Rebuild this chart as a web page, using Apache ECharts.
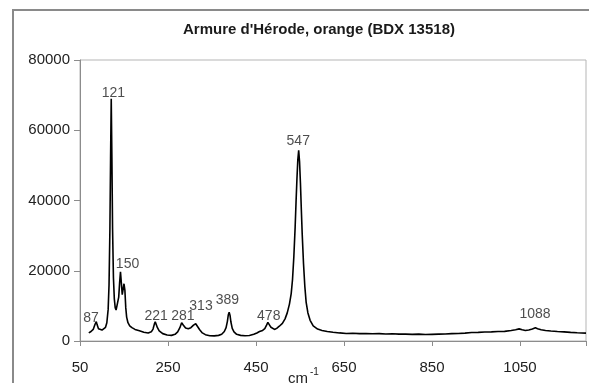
<!DOCTYPE html>
<html>
<head>
<meta charset="utf-8">
<script src="https://cdn.jsdelivr.net/npm/echarts@6/dist/echarts.min.js"></script>
<style>
html,body{margin:0;padding:0;background:#fff;}
#chart{width:589px;height:383px;}
</style>
</head>
<body>
<div id="chart"></div>
<script>
// Raman spectrum: wavenumber (cm-1) and intensity
const wavenumbers = [70,75,80,84,87,89,92,96,100,104,108,111,114,116,118,119.5,121,122.5,124,126,128,130,132,135,138,140,142,144,146,148,150,152,154,156,159,163,168,175,185,195,205,212,216,219,221,223,226,230,238,248,258,266,272,277,281,285,290,296,302,308,313,317,322,328,335,345,355,365,372,378,382,385,387,389,391,393,396,400,406,415,425,435,445,452,458,465,470,474,477,480,484,488,492,497,503,510,516,521,526,530,533,536,539,541,543,545,547,549,551,553,555,558,561,564,568,573,580,590,600,612,625,640,655,670,685,700,715,730,745,760,775,790,805,820,835,850,865,880,895,910,925,940,955,970,985,1000,1015,1030,1040,1048,1055,1062,1070,1078,1085,1090,1098,1108,1120,1135,1150,1165,1180,1200];
const intensities = [2300,2700,3300,4700,5500,4600,3500,3100,3100,3300,3900,5200,9000,16000,32000,52000,69000,52000,32000,18000,12000,9500,8800,9200,12500,16500,19700,16500,13200,13500,16300,14500,9500,6800,5200,4300,3800,3300,2900,2500,2300,2600,3400,4800,5500,5000,3800,2900,2100,1700,1600,1900,2600,3800,5200,4500,3700,3500,3800,4500,4900,4400,3200,2300,1800,1500,1450,1600,1900,2700,3800,5600,7400,8200,7300,5400,3600,2600,1900,1600,1500,1550,1900,2300,2700,3000,3500,4500,5300,4800,3900,3400,3300,3600,4200,5000,6300,8000,10500,13500,17500,24000,32500,39500,46000,51500,54300,51000,45000,37500,30500,22000,15500,11000,8000,5900,4300,3400,3000,2700,2500,2300,2150,2200,2100,2150,2050,2100,2000,2050,1950,1950,1900,1950,1850,1900,1950,2000,2100,2150,2250,2400,2450,2550,2600,2700,2750,3000,3200,3450,3200,3000,3150,3400,3750,3500,3200,3000,2850,2700,2600,2450,2350,2250];

// Peak annotations
const peakTexts = ['87','121','150','221','281','313','389','478','547','1088'];
const peakLabelX = [75,126,158,223,284,325,385,479,546,1084];
const peakLabelY = [6600,70600,21900,7000,7200,10000,11600,7000,57000,7700];

const xTicks = [50,250,450,650,850,1050];
const yTicks = [0,20000,40000,60000,80000];

const chart = echarts.init(document.getElementById('chart'));
const fontFam = "'Liberation Sans', Arial, sans-serif";
chart.setOption({
  animation: false,
  backgroundColor: '#fff',
  title: {
    text: "Armure d'Hérode, orange (BDX 13518)",
    left: 314, top: 17, textAlign: 'center',
    textStyle: {fontFamily: fontFam, fontSize: 15, fontWeight: 'bold', color: '#1a1a1a'}
  },
  grid: {left: 80, top: 60, right: 2, bottom: 42, show: true, borderColor: '#b5b5b5', borderWidth: 1},
  xAxis: {
    type: 'value', min: 50, max: 1200, interval: 200,
    splitLine: {show: false},
    axisLine: {lineStyle: {color: '#8c8c8c'}},
    axisTick: {length: 5, lineStyle: {color: '#8c8c8c'}},
    axisLabel: {
      margin: 19, color: '#222', fontFamily: fontFam, fontSize: 15,
      formatter: v => xTicks.indexOf(v) >= 0 ? String(v) : ''
    }
  },
  yAxis: {
    type: 'value', min: 0, max: 80000, interval: 20000,
    splitLine: {show: false},
    axisLine: {show: true, lineStyle: {color: '#8c8c8c'}},
    axisTick: {show: true, length: 6, lineStyle: {color: '#8c8c8c'}},
    axisLabel: {margin: 10, color: '#222', fontFamily: fontFam, fontSize: 15,
      formatter: v => yTicks.indexOf(v) >= 0 ? String(v) : ''}
  },
  graphic: [
    {type: 'rect', shape: {x: 13, y: 10, width: 600, height: 400}, style: {fill: 'none', stroke: '#8a8a8a', lineWidth: 2}, silent: true},
    {type: 'text', left: 288, top: 371, style: {text: 'cm', font: "15px 'Liberation Sans', Arial, sans-serif", fill: '#222'}},
    {type: 'text', left: 310, top: 367, style: {text: '-1', font: "10px 'Liberation Sans', Arial, sans-serif", fill: '#222'}}
  ],
  series: [
    {
      type: 'line', showSymbol: false, symbol: 'none',
      data: wavenumbers.map((w, i) => [w, intensities[i]]),
      lineStyle: {color: '#000', width: 1.6},
      z: 3
    },
    {
      type: 'scatter', symbolSize: 0,
      data: peakLabelX.map((x, i) => ({value: [x, peakLabelY[i]], name: peakTexts[i]})),
      label: {show: true, position: 'inside', formatter: p => p.name, color: '#222', fontFamily: fontFam, fontSize: 14},
      z: 4
    }
  ]
});
</script>
</body>
</html>
